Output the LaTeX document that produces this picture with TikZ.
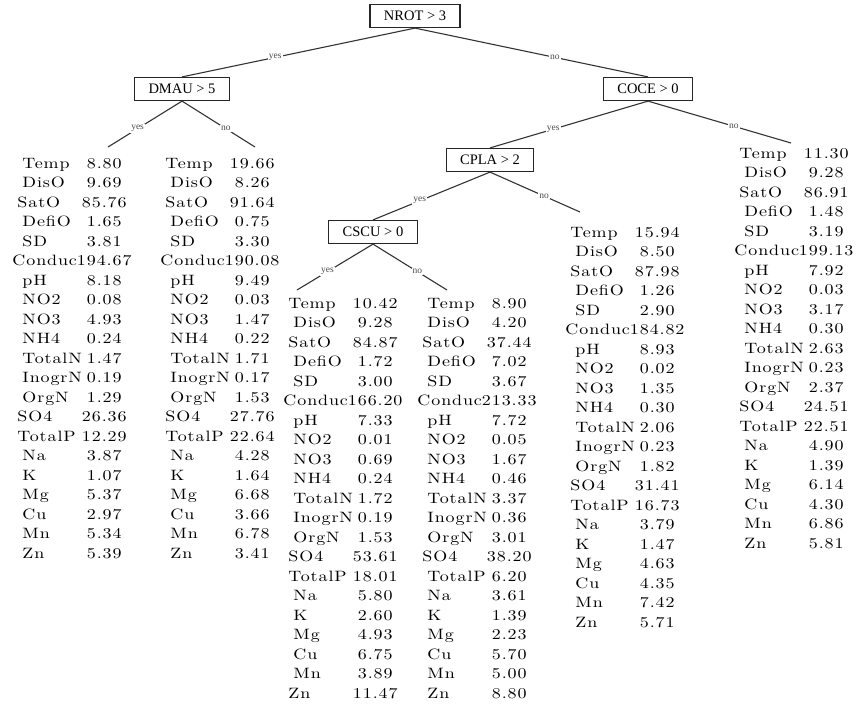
\documentclass[tikz,border=0pt]{standalone}
\usepackage{fontspec}
\usepackage{tikz}
\usetikzlibrary{positioning}
\newfontfamily\leaffont{lmroman10-regular.otf}[FakeStretch=1.2,LetterSpace=6]
\newfontfamily\splitfont{Liberation Serif}
\newlength\namew
\newcommand\lrow[2]{\makebox[\namew][l]{#1}#2}

\begin{document}
\begin{tikzpicture}[x=1pt,y=-1pt,
  split/.style={draw=black!85,line width=1.2pt,font=\splitfont\fontsize{14.5}{16}\selectfont,
    inner xsep=14pt,inner ysep=0pt,minimum height=23pt},
  leaf/.style={anchor=north,inner sep=0pt,align=center,text=black,
    font=\leaffont\fontsize{15}{19.5}\selectfont\settowidth{\namew}{Conduc}},
  lbl/.style={font=\splitfont\fontsize{9.5}{10}\selectfont,text=black!70,fill=white,inner sep=1pt,pos=0.6},
  edge/.style={draw=black!80,line width=1.1pt}]
 \useasboundingbox (0,0) rectangle (860,705);
 % splits
 \node[split] (nrot) at (415,16) {NROT > 3};
 \node[split] (dmau) at (182,89) {DMAU > 5};
 \node[split] (coce) at (648,89) {COCE > 0};
 \node[split] (cpla) at (490,160) {CPLA > 2};
 \node[split] (cscu) at (373,232) {CSCU > 0};
 % free ends above the leaves
 \coordinate (e1) at (108,147);
 \coordinate (e2) at (255,147);
 \coordinate (e3) at (297,290);
 \coordinate (e4) at (447,290);
 \coordinate (e5) at (580,212);
 \coordinate (e6) at (791,143);
 % leaves
 \node[leaf] (leaf1) at (72,158) {\lrow{Temp}{8.80}\\ \lrow{DisO}{9.69}\\ \lrow{SatO}{85.76}\\
   \lrow{DefiO}{1.65}\\ \lrow{SD}{3.81}\\ \lrow{Conduc}{194.67}\\ \lrow{pH}{8.18}\\
   \lrow{NO2}{0.08}\\ \lrow{NO3}{4.93}\\ \lrow{NH4}{0.24}\\ \lrow{TotalN}{1.47}\\
   \lrow{InogrN}{0.19}\\ \lrow{OrgN}{1.29}\\ \lrow{SO4}{26.36}\\ \lrow{TotalP}{12.29}\\
   \lrow{Na}{3.87}\\ \lrow{K}{1.07}\\ \lrow{Mg}{5.37}\\ \lrow{Cu}{2.97}\\
   \lrow{Mn}{5.34}\\ \lrow{Zn}{5.39}};
 \node[leaf] (leaf2) at (220,158) {\lrow{Temp}{19.66}\\ \lrow{DisO}{8.26}\\ \lrow{SatO}{91.64}\\
   \lrow{DefiO}{0.75}\\ \lrow{SD}{3.30}\\ \lrow{Conduc}{190.08}\\ \lrow{pH}{9.49}\\
   \lrow{NO2}{0.03}\\ \lrow{NO3}{1.47}\\ \lrow{NH4}{0.22}\\ \lrow{TotalN}{1.71}\\
   \lrow{InogrN}{0.17}\\ \lrow{OrgN}{1.53}\\ \lrow{SO4}{27.76}\\ \lrow{TotalP}{22.64}\\
   \lrow{Na}{4.28}\\ \lrow{K}{1.64}\\ \lrow{Mg}{6.68}\\ \lrow{Cu}{3.66}\\
   \lrow{Mn}{6.78}\\ \lrow{Zn}{3.41}};
 \node[leaf] (leaf3) at (343,298) {\lrow{Temp}{10.42}\\ \lrow{DisO}{9.28}\\ \lrow{SatO}{84.87}\\
   \lrow{DefiO}{1.72}\\ \lrow{SD}{3.00}\\ \lrow{Conduc}{166.20}\\ \lrow{pH}{7.33}\\
   \lrow{NO2}{0.01}\\ \lrow{NO3}{0.69}\\ \lrow{NH4}{0.24}\\ \lrow{TotalN}{1.72}\\
   \lrow{InogrN}{0.19}\\ \lrow{OrgN}{1.53}\\ \lrow{SO4}{53.61}\\ \lrow{TotalP}{18.01}\\
   \lrow{Na}{5.80}\\ \lrow{K}{2.60}\\ \lrow{Mg}{4.93}\\ \lrow{Cu}{6.75}\\
   \lrow{Mn}{3.89}\\ \lrow{Zn}{11.47}};
 \node[leaf] (leaf4) at (477,298) {\lrow{Temp}{8.90}\\ \lrow{DisO}{4.20}\\ \lrow{SatO}{37.44}\\
   \lrow{DefiO}{7.02}\\ \lrow{SD}{3.67}\\ \lrow{Conduc}{213.33}\\ \lrow{pH}{7.72}\\
   \lrow{NO2}{0.05}\\ \lrow{NO3}{1.67}\\ \lrow{NH4}{0.46}\\ \lrow{TotalN}{3.37}\\
   \lrow{InogrN}{0.36}\\ \lrow{OrgN}{3.01}\\ \lrow{SO4}{38.20}\\ \lrow{TotalP}{6.20}\\
   \lrow{Na}{3.61}\\ \lrow{K}{1.39}\\ \lrow{Mg}{2.23}\\ \lrow{Cu}{5.70}\\
   \lrow{Mn}{5.00}\\ \lrow{Zn}{8.80}};
 \node[leaf] (leaf5) at (625,227) {\lrow{Temp}{15.94}\\ \lrow{DisO}{8.50}\\ \lrow{SatO}{87.98}\\
   \lrow{DefiO}{1.26}\\ \lrow{SD}{2.90}\\ \lrow{Conduc}{184.82}\\ \lrow{pH}{8.93}\\
   \lrow{NO2}{0.02}\\ \lrow{NO3}{1.35}\\ \lrow{NH4}{0.30}\\ \lrow{TotalN}{2.06}\\
   \lrow{InogrN}{0.23}\\ \lrow{OrgN}{1.82}\\ \lrow{SO4}{31.41}\\ \lrow{TotalP}{16.73}\\
   \lrow{Na}{3.79}\\ \lrow{K}{1.47}\\ \lrow{Mg}{4.63}\\ \lrow{Cu}{4.35}\\
   \lrow{Mn}{7.42}\\ \lrow{Zn}{5.71}};
 \node[leaf] (leaf6) at (794,148) {\lrow{Temp}{11.30}\\ \lrow{DisO}{9.28}\\ \lrow{SatO}{86.91}\\
   \lrow{DefiO}{1.48}\\ \lrow{SD}{3.19}\\ \lrow{Conduc}{199.13}\\ \lrow{pH}{7.92}\\
   \lrow{NO2}{0.03}\\ \lrow{NO3}{3.17}\\ \lrow{NH4}{0.30}\\ \lrow{TotalN}{2.63}\\
   \lrow{InogrN}{0.23}\\ \lrow{OrgN}{2.37}\\ \lrow{SO4}{24.51}\\ \lrow{TotalP}{22.51}\\
   \lrow{Na}{4.90}\\ \lrow{K}{1.39}\\ \lrow{Mg}{6.14}\\ \lrow{Cu}{4.30}\\
   \lrow{Mn}{6.86}\\ \lrow{Zn}{5.81}};
 % edges
 \draw[edge] (nrot.south) -- node[lbl] {yes} (dmau.north);
 \draw[edge] (nrot.south) -- node[lbl] {no} (coce.north);
 \draw[edge] (dmau.south) -- node[lbl] {yes} (e1);
 \draw[edge] (dmau.south) -- node[lbl] {no} (e2);
 \draw[edge] (coce.south) -- node[lbl] {yes} (cpla.north);
 \draw[edge] (coce.south) -- node[lbl] {no} (e6);
 \draw[edge] (cpla.south) -- node[lbl] {yes} (cscu.north);
 \draw[edge] (cpla.south) -- node[lbl] {no} (e5);
 \draw[edge] (cscu.south) -- node[lbl] {yes} (e3);
 \draw[edge] (cscu.south) -- node[lbl] {no} (e4);
\end{tikzpicture}
\end{document}
